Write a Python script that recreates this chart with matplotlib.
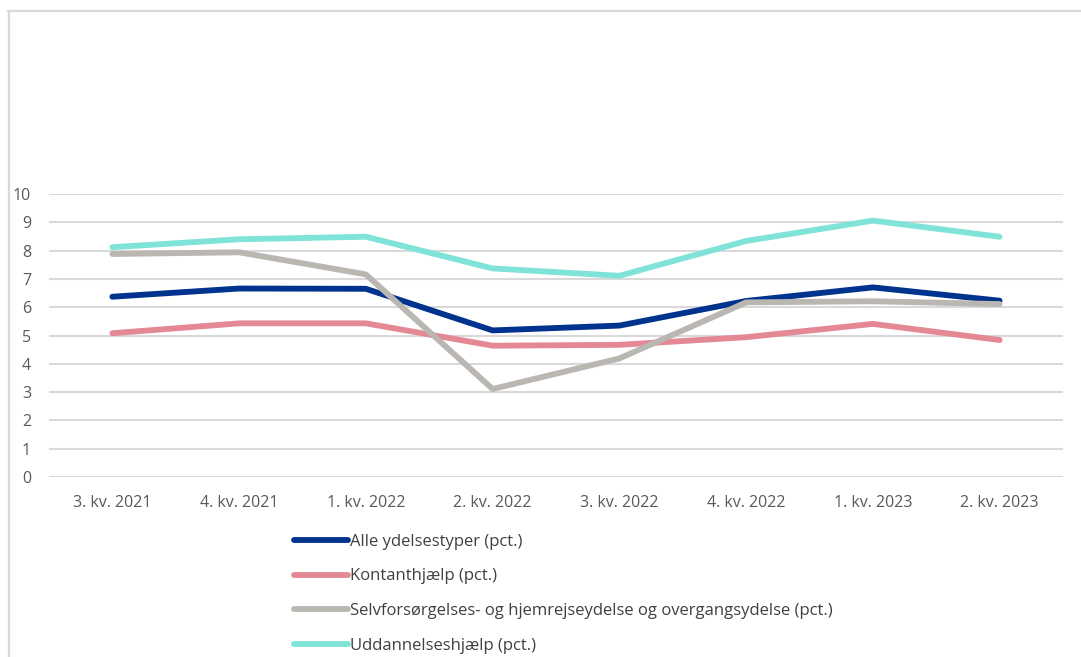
import matplotlib.pyplot as plt
from matplotlib.lines import Line2D

quarters = ['3. kv. 2021', '4. kv. 2021', '1. kv. 2022', '2. kv. 2022',
            '3. kv. 2022', '4. kv. 2022', '1. kv. 2023', '2. kv. 2023']
alle = [6.37, 6.66, 6.65, 5.18, 5.35, 6.22, 6.70, 6.23]
kontant = [5.08, 5.43, 5.43, 4.64, 4.67, 4.94, 5.41, 4.84]
selv = [7.88, 7.94, 7.16, 3.11, 4.19, 6.17, 6.21, 6.11]
udd = [8.12, 8.40, 8.49, 7.37, 7.11, 8.34, 9.06, 8.49]

labels = ['Alle ydelsestyper (pct.)', 'Kontanthjælp (pct.)',
          'Selvforsørgelses- og hjemrejseydelse og overgangsydelse (pct.)',
          'Uddannelseshjælp (pct.)']
colors = ['#00338D', '#E48896', '#BAB6B1', '#80E3D7']

plt.rcParams['font.family'] = ['Open Sans', 'DejaVu Sans']

fig = plt.figure(figsize=(10.81, 6.57), dpi=100)
ax = fig.add_axes([49 / 1081, 1 - 477 / 657, 1014 / 1081, 283 / 657])

x = range(len(quarters))
for vals, c, lab in zip([alle, kontant, selv, udd], colors, labels):
    ax.plot(x, vals, color=c, lw=4.2, label=lab, solid_capstyle='round', solid_joinstyle='round')

ax.set_xlim(-0.5, 7.5)
ax.set_ylim(0, 10)
ax.set_yticks(range(0, 11))
ax.set_xticks(list(x))
ax.set_xticklabels(quarters)
ax.grid(axis='y', color='#D9D9D9', lw=1.5)
ax.set_axisbelow(True)
for s in ax.spines.values():
    s.set_visible(False)
ax.tick_params(length=0, labelsize=11.5, labelcolor='#595959')
ax.tick_params(axis='y', pad=13)
ax.tick_params(axis='x', pad=13)

# figure border
fig.add_artist(Line2D([8.5 / 1081, 8.5 / 1081], [0, 1 - 10.5 / 657], color='#D9D9D9', lw=1.6))
fig.add_artist(Line2D([8 / 1081, 1], [1 - 10.5 / 657, 1 - 10.5 / 657], color='#D9D9D9', lw=1.6))

handles = [Line2D([0], [0], color=c, lw=4.2, solid_capstyle='round') for c in colors]
fig.legend(handles, labels, loc='upper left', bbox_to_anchor=(287 / 1081, 1 - 527 / 657),
           frameon=False, fontsize=12, labelcolor='#404040', handlelength=3.25,
           handletextpad=0.1, labelspacing=1.12, borderaxespad=0)

fig.savefig('out.png', dpi=100)
